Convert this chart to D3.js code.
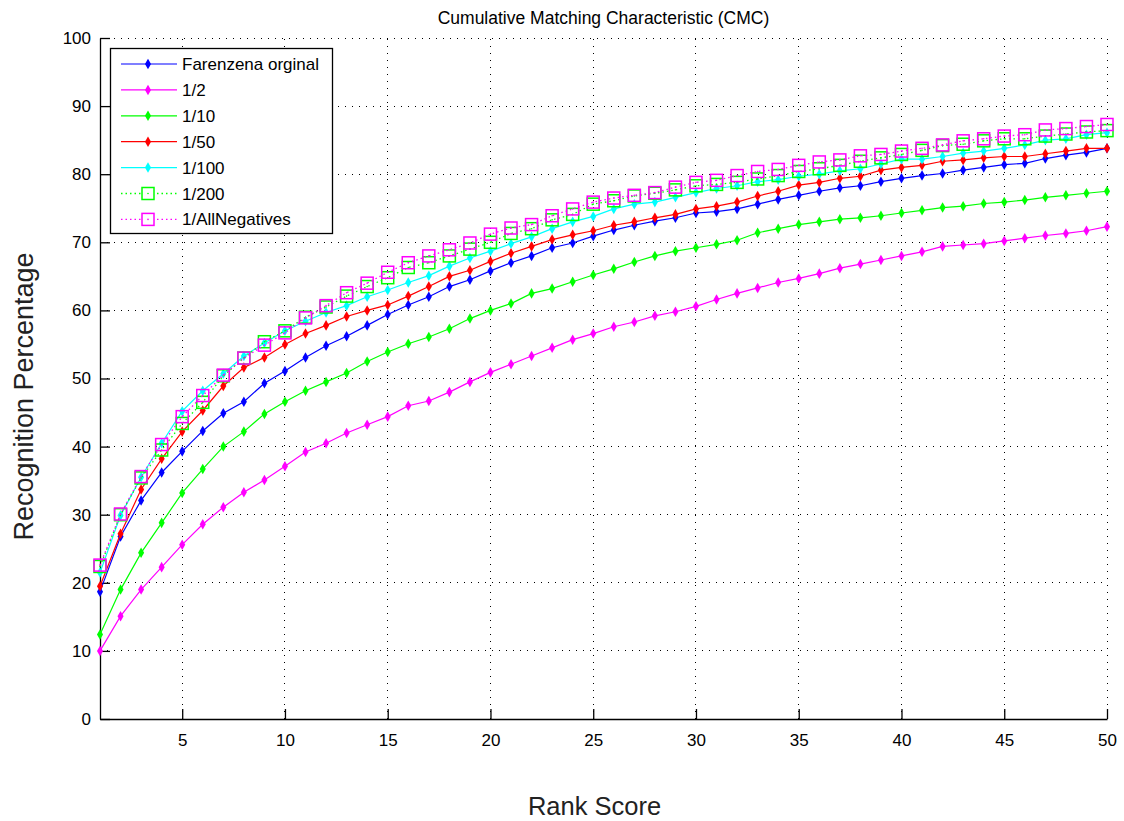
<!DOCTYPE html>
<html>
<head>
<meta charset="utf-8">
<script src="https://cdn.jsdelivr.net/npm/d3@7"></script>
<style>
  html, body { margin: 0; padding: 0; background: #fff; }
  svg { display: block; font-family: "Liberation Sans", Arial, sans-serif; }
</style>
</head>
<body>
<svg id="chart" width="1124" height="821"></svg>
<script>
// ---------- data ----------
const ranks = d3.range(1, 51);
const xTicks = [5, 10, 15, 20, 25, 30, 35, 40, 45, 50];
const yTicks = [0, 10, 20, 30, 40, 50, 60, 70, 80, 90, 100];

const farenzena = [18.7, 26.8, 32.1, 36.2, 39.3, 42.3, 44.9, 46.6, 49.3, 51.1,
  53.1, 54.8, 56.2, 57.8, 59.4, 60.8, 62.0, 63.5, 64.5, 65.8,
  67.0, 68.0, 69.2, 69.9, 70.9, 71.8, 72.5, 73.1, 73.6, 74.3,
  74.5, 74.9, 75.6, 76.3, 76.9, 77.5, 78.0, 78.3, 78.9, 79.4,
  79.8, 80.1, 80.6, 81.0, 81.4, 81.6, 82.3, 82.8, 83.2, 83.8];
const half = [10.0, 15.1, 19.0, 22.3, 25.6, 28.6, 31.1, 33.3, 35.1, 37.1,
  39.2, 40.5, 42.0, 43.2, 44.4, 46.0, 46.7, 48.0, 49.5, 50.9,
  52.1, 53.3, 54.5, 55.7, 56.6, 57.6, 58.3, 59.2, 59.8, 60.6,
  61.6, 62.5, 63.3, 64.1, 64.7, 65.4, 66.2, 66.8, 67.4, 68.0,
  68.6, 69.4, 69.6, 69.8, 70.2, 70.6, 71.0, 71.3, 71.7, 72.3];
const tenth = [12.4, 19.0, 24.4, 28.8, 33.2, 36.7, 40.0, 42.2, 44.8, 46.6,
  48.2, 49.5, 50.8, 52.5, 53.9, 55.1, 56.1, 57.3, 58.8, 60.0,
  61.0, 62.5, 63.2, 64.2, 65.2, 66.1, 67.1, 68.0, 68.7, 69.2,
  69.7, 70.3, 71.4, 72.0, 72.6, 73.0, 73.4, 73.6, 73.9, 74.3,
  74.7, 75.1, 75.3, 75.7, 75.9, 76.2, 76.6, 76.9, 77.2, 77.5];
const fiftieth = [19.5, 27.2, 33.7, 38.2, 42.2, 45.3, 48.9, 51.6, 53.1, 55.0,
  56.6, 57.8, 59.1, 60.0, 60.8, 62.1, 63.5, 65.0, 65.9, 67.2,
  68.4, 69.4, 70.4, 71.1, 71.7, 72.5, 73.0, 73.6, 74.1, 74.9,
  75.3, 75.9, 76.8, 77.5, 78.4, 78.8, 79.4, 79.7, 80.6, 81.0,
  81.3, 81.9, 82.1, 82.4, 82.6, 82.6, 83.0, 83.4, 83.8, 83.8];
const hundredth = [21.5, 29.9, 35.5, 40.5, 45.2, 48.2, 50.7, 53.3, 55.2, 57.0,
  58.4, 59.7, 60.7, 62.0, 63.0, 64.1, 65.1, 66.5, 67.7, 68.7,
  69.8, 70.8, 72.0, 73.0, 73.8, 74.9, 75.6, 75.9, 76.6, 77.3,
  77.9, 78.3, 78.9, 79.2, 79.7, 80.0, 80.5, 80.8, 81.5, 82.2,
  82.2, 82.6, 83.1, 83.4, 83.8, 84.3, 85.0, 85.2, 85.8, 86.1];
const twoHundredth = [22.4, 30.0, 35.4, 39.5, 43.4, 46.5, 50.4, 53.0, 55.4, 57.0,
  59.0, 60.5, 62.1, 63.5, 64.8, 66.3, 67.0, 68.0, 69.0, 70.0,
  71.3, 72.0, 73.3, 74.1, 75.6, 76.1, 76.8, 77.2, 77.7, 78.3,
  78.5, 78.8, 79.3, 79.8, 80.4, 80.8, 81.3, 81.9, 82.4, 82.9,
  83.5, 84.2, 84.4, 84.9, 85.2, 85.2, 85.6, 85.9, 86.2, 86.4];
const allNegatives = [22.6, 30.1, 35.6, 40.3, 44.4, 47.5, 50.5, 53.0, 54.9, 56.7,
  58.9, 60.7, 62.6, 64.0, 65.6, 67.0, 68.0, 68.9, 69.9, 71.2,
  72.1, 72.6, 73.9, 74.9, 75.9, 76.5, 76.9, 77.3, 78.1, 78.8,
  79.1, 79.8, 80.4, 80.7, 81.3, 81.8, 82.1, 82.7, 82.9, 83.4,
  83.8, 84.3, 84.9, 85.2, 85.6, 85.8, 86.5, 86.7, 87.0, 87.3];

const seriesNames = ["Farenzena orginal", "1/2", "1/10", "1/50", "1/100", "1/200", "1/AllNegatives"];
const seriesValues = [farenzena, half, tenth, fiftieth, hundredth, twoHundredth, allNegatives];
const seriesColors = ["#0000ff", "#ff00ff", "#00ff00", "#ff0000", "#00ffff", "#00ff00", "#ff00ff"];
const seriesStyle = ["dot", "dot", "dot", "dot", "dot", "square", "square"];

// ---------- layout ----------
const svg = d3.select("#chart");
const L = 100, R = 1107, T = 38, B = 719;
const x = d3.scaleLinear().domain([1, 50]).range([L, R]);
const y = d3.scaleLinear().domain([0, 100]).range([B, T]);

// grid
const grid = svg.append("g");
grid.selectAll("line.gy").data(yTicks.filter(d => d > 0)).join("line")
  .attr("x1", L).attr("x2", R).attr("y1", d => y(d)).attr("y2", d => y(d))
  .attr("stroke", "#000").attr("stroke-width", 1).attr("stroke-dasharray", "1,6")
  .attr("shape-rendering", "crispEdges");
grid.selectAll("line.gx").data(xTicks).join("line")
  .attr("y1", B).attr("y2", T).attr("x1", d => x(d)).attr("x2", d => x(d))
  .attr("stroke", "#000").attr("stroke-width", 1).attr("stroke-dasharray", "1,6")
  .attr("shape-rendering", "crispEdges");

// axes (MATLAB style inward ticks)
const yAxis = d3.axisLeft(y).tickValues(yTicks).tickSizeInner(-10).tickSizeOuter(0).tickPadding(17);
const xAxis = d3.axisBottom(x).tickValues(xTicks).tickSizeInner(-10).tickSizeOuter(0).tickPadding(15);
const gy = svg.append("g").attr("transform", `translate(${L},0)`).call(yAxis);
const gx = svg.append("g").attr("transform", `translate(0,${B})`).call(xAxis);
[gx, gy].forEach(g => {
  g.select(".domain").attr("stroke", "#000").attr("stroke-width", 1.3);
  g.selectAll(".tick line").attr("stroke", "#000").attr("stroke-width", 1.3);
  g.selectAll(".tick text").attr("fill", "#000").attr("font-size", 17)
    .attr("font-family", "Liberation Sans, Arial, sans-serif");
});
gy.selectAll(".tick text").attr("dx", 8);

// series
const line = d3.line().x((d, i) => x(ranks[i])).y(d => y(d));
const plot = svg.append("g");
seriesValues.forEach((vals, k) => {
  const g = plot.append("g");
  const col = seriesColors[k];
  if (seriesStyle[k] === "dot") {
    g.append("path").attr("d", line(vals)).attr("fill", "none")
      .attr("stroke", col).attr("stroke-width", 1.2);
    g.selectAll("path.m").data(vals).join("path")
      .attr("transform", (d, i) => `translate(${x(ranks[i])},${y(d)})`)
      .attr("d", d3.symbol().type(d3.symbolDiamond).size(32))
      .attr("fill", col);
  } else {
    g.append("path").attr("d", line(vals)).attr("fill", "none")
      .attr("stroke", col).attr("stroke-width", 1.3).attr("stroke-dasharray", "1.5,3");
    g.selectAll("rect").data(vals).join("rect")
      .attr("x", (d, i) => x(ranks[i]) - 6).attr("y", d => y(d) - 6)
      .attr("width", 12).attr("height", 12)
      .attr("fill", "none").attr("stroke", col).attr("stroke-width", 1.5);
    g.selectAll("circle").data(vals).join("circle")
      .attr("cx", (d, i) => x(ranks[i])).attr("cy", d => y(d)).attr("r", 0.8)
      .attr("fill", col);
  }
});

// title & labels
svg.append("text").attr("x", (L + R) / 2).attr("y", 24).attr("text-anchor", "middle")
  .attr("font-size", 17.5).attr("fill", "#000").text("Cumulative Matching Characteristic (CMC)");
svg.append("text").attr("transform", `translate(33,${(T + B) / 2 + 18}) rotate(-90)`)
  .attr("text-anchor", "middle").attr("font-size", 27).attr("fill", "#222")
  .text("Recognition Percentage");
svg.append("text").attr("x", (L + R) / 2 - 9).attr("y", 815).attr("text-anchor", "middle")
  .attr("font-size", 25.5).attr("fill", "#222").text("Rank Score");

// legend
const lg = svg.append("g");
lg.append("rect").attr("x", 110.5).attr("y", 48.5).attr("width", 222).attr("height", 185)
  .attr("fill", "#fff").attr("stroke", "#000").attr("stroke-width", 1.3);
seriesNames.forEach((name, k) => {
  const cy = 64 + k * 25.9;
  const col = seriesColors[k];
  const it = lg.append("g");
  if (seriesStyle[k] === "dot") {
    it.append("line").attr("x1", 121).attr("x2", 177).attr("y1", cy).attr("y2", cy)
      .attr("stroke", col).attr("stroke-width", 1.2);
    it.append("path").attr("transform", `translate(148,${cy})`)
      .attr("d", d3.symbol().type(d3.symbolDiamond).size(32)).attr("fill", col);
  } else {
    it.append("line").attr("x1", 121).attr("x2", 177).attr("y1", cy).attr("y2", cy)
      .attr("stroke", col).attr("stroke-width", 1.3).attr("stroke-dasharray", "1.5,3");
    it.append("rect").attr("x", 142).attr("y", cy - 6).attr("width", 12).attr("height", 12)
      .attr("fill", "#fff").attr("stroke", col).attr("stroke-width", 1.5);
    it.append("circle").attr("cx", 148).attr("cy", cy).attr("r", 0.8).attr("fill", col);
  }
  it.append("text").attr("x", 182).attr("y", cy + 6).attr("font-size", 17)
    .attr("fill", "#000").text(name);
});
</script>
</body>
</html>
